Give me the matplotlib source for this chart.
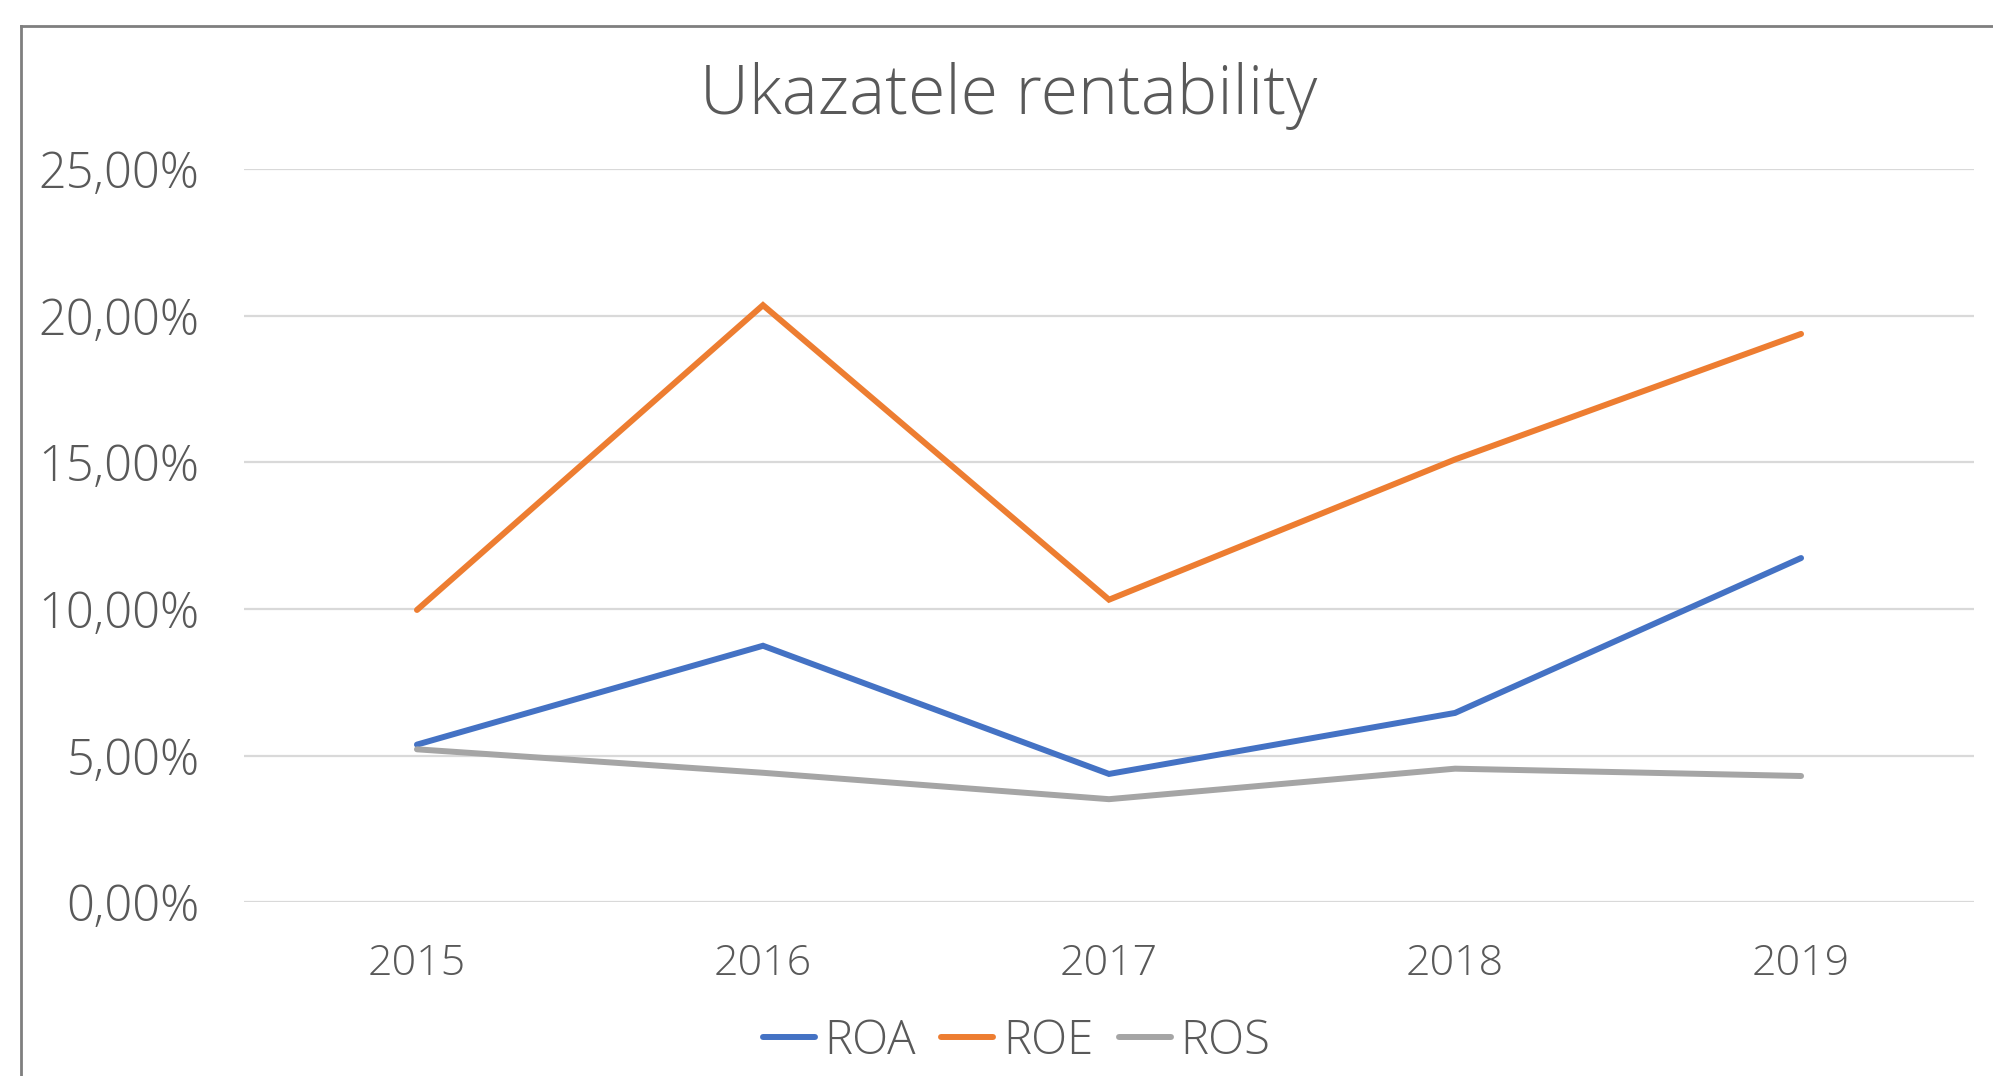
import matplotlib.pyplot as plt
from matplotlib.lines import Line2D
from matplotlib.ticker import FuncFormatter

plt.rcParams['font.family'] = ['Open Sans', 'DejaVu Sans']
plt.rcParams['font.weight'] = 'light'

years = ['2015', '2016', '2017', '2018', '2019']
roa = [5.38, 8.75, 4.38, 6.46, 11.74]
roe = [9.97, 20.36, 10.32, 15.10, 19.38]
ros = [5.22, 4.42, 3.52, 4.56, 4.31]
series = [('ROA', roa, '#4472c4'), ('ROE', roe, '#ed7d31'), ('ROS', ros, '#a5a5a5')]

txt = '#595959'
fig = plt.figure(figsize=(19.93, 10.76), dpi=100)
ax = fig.add_axes([0.1224, 0.1613, 0.8681, 0.6816])

x = list(range(len(years)))
for name, vals, col in series:
    ax.plot(x, vals, color=col, lw=4.3, label=name, solid_capstyle='round', solid_joinstyle='miter')

ax.set_xlim(-0.5, len(years) - 0.5)
ax.set_ylim(0, 25)
ax.set_yticks([0, 5, 10, 15, 20, 25])
ax.yaxis.set_major_formatter(FuncFormatter(lambda v, p: f'{v:.2f}'.replace('.', ',') + '%'))
ax.set_xticks(x)
ax.set_xticklabels(years)
ax.grid(axis='y', color='#d9d9d9', lw=1.6)
ax.set_axisbelow(True)
for s in ax.spines.values():
    s.set_visible(False)
ax.tick_params(axis='y', length=0, pad=32, labelsize=35, labelcolor=txt)
ax.tick_params(axis='x', length=0, pad=29, labelsize=31, labelcolor=txt)

fig.text(0.506, 0.911, 'Ukazatele rentability', ha='center', va='center', fontsize=49, color=txt)

leg = fig.legend(loc='center', bbox_to_anchor=(0.51, 0.032), ncol=3, frameon=False,
                 fontsize=34, labelcolor=txt, handlelength=1.1, handletextpad=0.2, columnspacing=0.55)

# chart border (left and top edges visible)
fig.add_artist(Line2D([0.0105, 0.0105], [0, 0.9758], color='#7f7f7f', lw=2))
fig.add_artist(Line2D([0.0105, 1.0], [0.9758, 0.9758], color='#7f7f7f', lw=2))

fig.savefig('out.png', dpi=100)
